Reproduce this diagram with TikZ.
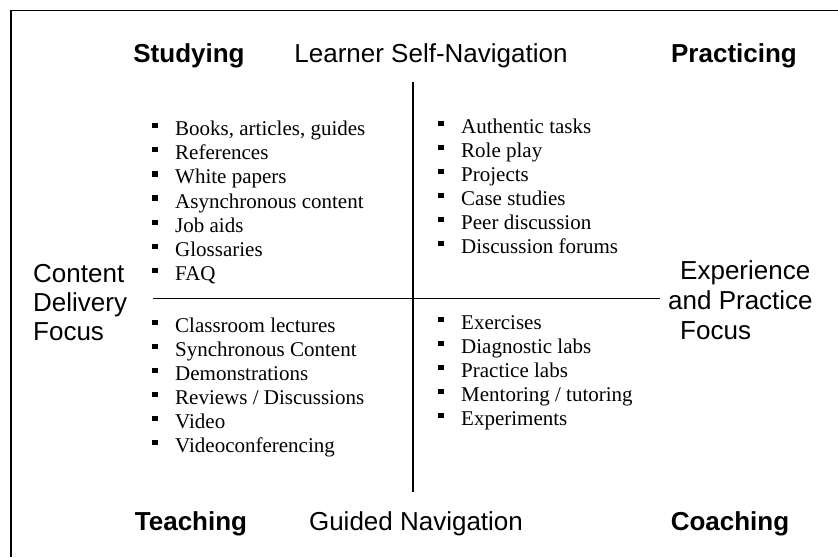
\documentclass[tikz,border=0pt]{standalone}
\usepackage{fontspec}
\setmainfont{Liberation Serif}
\setsansfont{Liberation Sans}
\begin{document}
\begin{tikzpicture}[x=1pt,y=-1pt,
  head/.style={font=\fontsize{26}{29}\selectfont\sffamily\bfseries, inner sep=0, anchor=base},
  sub/.style={font=\fontsize{26}{29}\selectfont\sffamily, inner sep=0, anchor=base},
  side/.style={font=\fontsize{26}{29}\selectfont\sffamily, inner sep=0, anchor=base west},
  item/.style={font=\fontsize{21}{24}\selectfont, inner sep=0, anchor=base west},
  bul/.style={fill=black, minimum size=5.5pt, inner sep=0},
  axis/.style={line width=1.5pt},
  frame/.style={line width=1.3pt}
]
\useasboundingbox (0,0) rectangle (838,557);
\fill[white] (0,0) rectangle (838,557);
% frame (only left and top edges visible)
\coordinate (fbl) at (11,557);
\coordinate (ftl) at (11,10.5);
\coordinate (ftr) at (838,10.5);
\draw[frame] (fbl) -- (ftl) -- (ftr);
% axes
\coordinate (vtop) at (413,82);
\coordinate (vbot) at (413,492);
\coordinate (hl) at (153,298.5);
\coordinate (hr) at (660,298.5);
\draw[axis] (vtop) -- (vbot);
\draw[axis] (hl) -- (hr);
% headings
\node[head] (studying) at (189,62) {Studying};
\node[sub] (selfnav) at (431,62) {Learner Self-Navigation};
\node[head] (practicing) at (734,62) {Practicing};
\node[head] (teaching) at (191,530) {Teaching};
\node[sub] (guided) at (416,530) {Guided Navigation};
\node[head] (coaching) at (730,530) {Coaching};
% side labels
\node[side] (cdf1) at (33,282) {Content};
\node[side] (cdf2) at (33,311) {Delivery};
\node[side] (cdf3) at (33,340) {Focus};
\node[side] (epf1) at (680,279) {Experience};
\node[side] (epf2) at (668,309) {and Practice};
\node[side] (epf3) at (680,339) {Focus};
% top-left list
\foreach \t [count=\i] in {{Books, articles, guides},References,White papers,Asynchronous content,Job aids,Glossaries,FAQ}{
  \node[bul] (tlb\i) at (155,{125.5+24.2*(\i-1)}) {};
  \node[item] (tl\i) at (175,{135.5+24.2*(\i-1)}) {\t};
}
% bottom-left list
\foreach \t [count=\i] in {Classroom lectures,Synchronous Content,Demonstrations,Reviews / Discussions,Video,Videoconferencing}{
  \node[bul] (blb\i) at (155,{322.5+24*(\i-1)}) {};
  \node[item] (bl\i) at (175,{332.5+24*(\i-1)}) {\t};
}
% top-right list
\foreach \t [count=\i] in {Authentic tasks,Role play,Projects,Case studies,Peer discussion,Discussion forums}{
  \node[bul] (trb\i) at (441,{123.5+24*(\i-1)}) {};
  \node[item] (tr\i) at (461,{133.5+24*(\i-1)}) {\t};
}
% bottom-right list
\foreach \t [count=\i] in {Exercises,Diagnostic labs,Practice labs,Mentoring / tutoring,Experiments}{
  \node[bul] (brb\i) at (441,{319.5+24*(\i-1)}) {};
  \node[item] (br\i) at (461,{329.5+24*(\i-1)}) {\t};
}
\end{tikzpicture}
\end{document}
